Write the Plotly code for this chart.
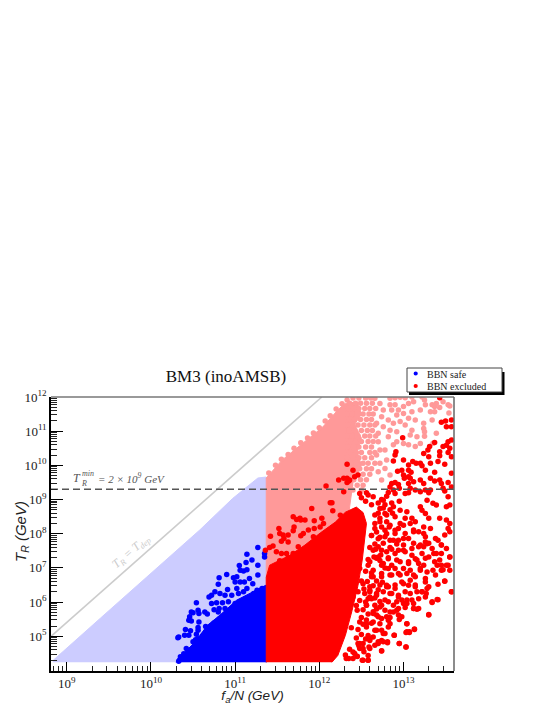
import plotly.graph_objects as go

# All positions below are log10(value)

# Outlines of the areas where points overlap completely
allowed_x = [8.84, 8.84, 9.40, 9.99, 10.58, 10.97, 11.27, 11.37, 11.37]
allowed_y = [4.24, 4.30, 5.53, 6.82, 8.11, 9.03, 9.63, 9.66, 4.24]

pink_x = [11.37, 11.37, 11.56, 11.81, 12.04, 12.22, 12.31, 12.45, 12.50, 12.42, 12.50, 12.45, 12.50, 12.40, 12.35, 11.37]
pink_y = [6.50, 9.63, 10.16, 10.65, 11.12, 11.62, 11.82, 11.85, 11.50, 11.20, 10.80, 10.40, 10.00, 9.50, 8.60, 6.50]

blue_area_x = [10.30, 10.32, 10.42, 10.52, 10.67, 10.82, 11.02, 11.33, 11.37, 11.37]
blue_area_y = [4.24, 4.36, 4.58, 4.82, 5.32, 5.62, 6.06, 6.46, 6.50, 4.24]

red_area_x = [11.37, 11.37, 11.41, 11.65, 11.83, 12.01, 12.19, 12.31, 12.44, 12.52, 12.56, 12.54, 12.51, 12.46, 12.39, 12.31, 12.22, 12.15]
red_area_y = [4.24, 6.73, 7.08, 7.37, 7.67, 8.02, 8.34, 8.63, 8.78, 8.62, 8.30, 7.81, 7.23, 6.49, 5.76, 5.03, 4.44, 4.24]

# Single BBN safe points outside the solid area
blue_x = [11.14, 11.27, 11.35, 11.35, 11.20, 11.13, 11.27, 11.05, 11.06, 11.10, 11.14, 10.90, 11.27, 10.81, 11.02, 10.98,
          11.00, 11.06, 11.11, 11.17, 11.21, 10.80, 10.76, 10.91, 10.69, 10.72, 10.82, 10.88, 11.02, 10.96, 11.04, 11.10,
          11.14, 11.22, 11.26, 11.32, 10.54, 10.72, 10.78, 10.85, 10.92, 11.00, 11.06, 11.12, 11.20, 10.48, 10.50, 10.56,
          10.57, 10.64, 10.67, 10.75, 10.81, 10.80, 10.88, 10.90, 10.98, 10.46, 10.45, 10.48, 10.57, 10.75, 10.82, 10.92,
          10.56, 10.56, 10.65, 10.68, 10.41, 10.47, 10.33, 10.32, 10.40, 10.45, 10.54, 10.53, 10.62, 10.68, 10.72, 10.42,
          10.35, 10.39, 10.56, 10.50, 10.33, 10.37]
blue_y = [7.40, 7.60, 7.42, 7.32, 7.23, 7.16, 7.08, 7.07, 6.93, 6.91, 6.95, 6.81, 6.79, 6.71, 6.74, 6.71,
          6.59, 6.59, 6.59, 6.69, 6.54, 6.52, 6.30, 6.37, 6.15, 6.20, 6.25, 6.20, 6.40, 6.20, 6.25, 6.30,
          6.40, 6.25, 6.35, 6.40, 5.98, 5.96, 5.98, 5.98, 6.01, 5.96, 6.01, 6.10, 6.15, 5.71, 5.69, 5.76,
          5.67, 5.71, 5.65, 5.78, 5.81, 5.71, 5.81, 5.71, 5.81, 5.57, 5.47, 5.45, 5.42, 5.39, 5.52, 5.67,
          5.26, 5.18, 5.29, 5.26, 5.20, 5.16, 4.98, 4.96, 5.03, 5.03, 5.06, 4.90, 5.03, 5.13, 5.18, 4.64,
          4.40, 4.49, 4.93, 4.84, 4.27, 4.33]

# Faded BBN excluded points, T_R above the limit
pink_dots_x = [12.84, 12.90, 12.96, 13.02, 13.10, 13.22, 13.26, 13.34, 13.39, 13.53, 13.32, 13.37, 13.20, 12.84, 12.90, 12.94,
               13.00, 13.06, 13.12, 12.86, 13.00, 12.92, 13.10, 13.06, 13.14, 13.24, 13.34, 13.24, 12.82, 12.88, 12.96, 13.02,
               13.10, 12.92, 12.84, 13.16, 13.08, 13.20, 13.06, 13.14, 13.00, 12.92, 12.88, 12.82, 12.70, 12.72, 12.78, 12.80,
               12.72, 12.70, 12.78, 12.84, 12.74, 12.68, 12.66, 12.72, 12.76, 12.74, 12.68, 12.76, 12.70, 13.25, 13.25, 13.39,
               13.35, 13.47, 13.55, 13.25, 13.37, 13.43, 13.54,
               11.40, 11.48, 11.55, 11.63, 11.70, 11.78, 11.86, 11.93, 12.00, 12.07, 12.13, 12.20, 12.27, 12.33,
               12.40, 12.47, 12.55, 12.61, 12.36, 12.43, 12.49, 12.56, 12.63, 12.34, 12.41, 12.47, 12.54, 12.60, 12.67,
               12.33, 12.39, 12.46, 12.52, 12.59, 12.64, 12.36, 12.42, 12.49, 12.56, 12.62, 12.33, 12.40, 12.46, 12.53, 12.60, 12.66,
               12.35, 12.42, 12.50, 12.57, 12.63, 12.33, 12.39, 12.46, 12.54, 12.60, 12.67, 12.36, 12.43, 12.50, 12.58, 12.64,
               12.33, 12.40, 12.47, 12.55, 12.62, 12.36, 12.44, 12.50, 12.60, 12.66, 12.33, 12.40, 12.47, 12.54, 12.62,
               12.37, 12.44, 12.52, 12.58, 12.66, 12.33, 12.41, 12.48, 12.56, 12.62, 12.36, 12.44, 12.52, 12.60,
               12.33, 12.41, 12.49, 12.56, 12.37, 12.45, 12.52, 12.33, 12.40, 12.50]
pink_dots_y = [11.96, 11.98, 11.99, 11.98, 12.00, 12.00, 11.77, 11.77, 11.81, 11.77, 11.57, 11.57, 11.62, 11.77, 11.77, 11.62,
               11.72, 11.81, 11.86, 11.62, 11.52, 11.47, 11.57, 11.38, 11.33, 11.23, 11.33, 11.08, 11.33, 11.23, 11.28, 11.18,
               11.03, 10.98, 11.03, 10.84, 10.89, 10.64, 10.60, 10.55, 10.64, 10.69, 10.60, 10.84, 10.69, 10.45, 10.45, 10.16,
               10.06, 9.81, 9.91, 9.72, 9.57, 10.30, 11.96, 11.81, 11.62, 11.42, 11.23, 11.13, 10.94, 10.98, 10.85, 10.94,
               10.65, 11.86, 11.74, 11.91, 11.72, 11.69, 11.53,
               9.78, 10.00, 10.18, 10.32, 10.50, 10.66, 10.80, 10.95, 11.10, 11.30, 11.45, 11.65, 11.80, 11.92,
               11.97, 11.97, 11.97, 11.97, 11.82, 11.82, 11.82, 11.82, 11.82, 11.66, 11.66, 11.66, 11.66, 11.66, 11.66,
               11.50, 11.50, 11.50, 11.50, 11.50, 11.50, 11.34, 11.34, 11.34, 11.34, 11.34, 11.18, 11.18, 11.18, 11.18, 11.18, 11.18,
               11.02, 11.02, 11.02, 11.02, 11.02, 10.86, 10.86, 10.86, 10.86, 10.86, 10.86, 10.70, 10.70, 10.70, 10.70, 10.70,
               10.54, 10.54, 10.54, 10.54, 10.54, 10.38, 10.38, 10.38, 10.38, 10.38, 10.22, 10.22, 10.22, 10.22, 10.22,
               10.06, 10.06, 10.06, 10.06, 10.06, 9.90, 9.90, 9.90, 9.90, 9.90, 9.74, 9.74, 9.74, 9.74,
               9.58, 9.58, 9.58, 9.58, 9.42, 9.42, 9.42, 9.28, 9.28, 9.28]

# Single BBN excluded points outside the solid area
red_x = [13.43, 13.50, 13.45, 13.57, 13.51, 13.57, 12.99, 13.37, 13.31, 13.53, 13.57, 13.51, 13.47, 13.55, 13.29, 13.24,
         13.30, 13.43, 13.43, 13.53, 13.57, 12.91, 12.90, 12.88, 13.00, 13.11, 13.15, 13.20, 13.22, 13.32, 13.41, 13.49,
         13.06, 12.93, 12.98, 13.06, 13.09, 13.00, 13.06, 13.01, 13.08, 13.26, 13.37, 13.57, 13.32, 13.20, 12.33, 12.40,
         12.46, 12.42, 12.29, 12.33, 12.36, 12.33, 12.35, 12.86, 12.90, 12.94, 12.84, 12.95, 12.88, 13.06, 13.08, 13.12,
         13.24, 13.37, 13.43, 13.45, 13.53, 13.57, 13.47, 13.14, 13.26, 12.48, 12.56, 12.82, 12.90, 13.02, 13.06, 13.20,
         13.32,
         12.76, 12.88, 12.78, 12.72, 12.64, 12.58, 12.96, 13.04, 13.02, 13.10, 12.90, 13.08, 13.14, 12.80, 12.84, 12.94,
         13.00, 13.12, 13.18, 13.22, 13.26, 13.30, 13.20, 13.35, 13.39, 13.51, 13.55, 13.43, 13.51, 13.55, 13.53, 13.49,
         13.32, 13.24, 13.28, 13.30, 13.49, 13.53, 13.24, 13.02, 13.06, 12.90, 12.84, 12.94, 13.00, 13.12, 13.18, 13.26,
         13.30, 13.24, 13.41, 13.45, 13.34, 13.51, 13.02, 13.10, 13.22, 13.30, 13.39, 13.55, 12.94, 12.74, 12.82, 12.92,
         13.06, 13.14, 13.18, 13.24, 13.37, 13.43, 13.45, 13.35, 13.51, 12.74, 12.82, 12.90, 13.00, 13.08, 13.20, 13.45,
         13.55, 12.70, 12.64, 12.74, 12.62, 12.86, 12.96, 13.14, 13.26, 12.58,
         13.57, 13.40, 13.34, 13.30, 13.16, 13.12, 13.12, 13.27, 13.22, 13.28, 13.41, 13.49, 13.14, 13.06, 12.98, 13.04,
         13.03, 13.07, 13.13, 12.89, 12.95, 13.03, 12.74, 12.81, 12.74, 12.76, 12.70, 12.66, 12.59, 12.58, 12.51, 12.58,
         12.45, 12.32, 12.95, 12.98, 12.92, 13.00, 12.94, 13.04, 12.84, 12.80, 12.88, 12.72, 12.66, 12.60, 12.52, 12.72,
         12.78, 12.68, 12.84, 12.90, 12.80, 12.60, 12.58, 12.56, 12.64, 12.70, 12.56, 12.48, 12.40,
         12.08, 12.23, 12.29, 12.13, 12.15, 11.91, 12.16, 11.69, 11.73, 11.83, 11.78, 11.77, 11.94, 12.03, 12.05, 12.01,
         11.94, 11.87, 11.81, 11.78, 11.70, 11.69, 11.52, 11.53, 11.57, 11.63, 11.58, 11.42, 11.55, 11.63, 11.75, 11.45,
         11.41, 11.36, 11.49, 11.55, 11.61, 11.63, 11.69, 11.79, 11.53, 11.47, 11.57, 11.93, 12.25,
         12.45, 12.52, 12.58, 12.40, 12.35, 12.31, 12.48, 12.60, 12.74, 12.70, 12.76, 12.81, 12.89, 12.95, 13.03, 13.04,
         13.07, 13.13, 13.04, 12.82, 12.78, 12.64, 12.60, 12.52, 12.46, 12.68, 12.74, 12.64, 12.68, 12.74, 12.82, 12.84,
         12.78, 12.84, 12.94, 12.94, 13.02, 13.12, 13.18, 13.30, 13.34, 13.41, 13.26, 13.18, 13.10, 13.04, 12.98, 12.92,
         12.88, 12.82, 12.74, 12.66, 12.56, 12.60, 12.68, 12.76, 12.86, 12.94, 13.02, 13.08, 13.16, 13.22, 13.30, 13.57,
         13.38, 13.49, 13.26, 13.14, 13.08, 13.00, 12.90, 12.82, 12.72, 12.60, 12.54, 12.52, 12.64, 12.74, 12.84, 12.94,
         13.04, 13.12, 13.20, 13.28, 13.40, 13.47, 13.53, 13.55, 13.45, 13.36, 13.26, 13.16, 13.06, 12.96, 12.86, 12.76,
         12.68, 12.80, 12.90, 13.00, 13.10, 13.20, 13.28, 13.45, 13.55, 13.38, 13.26, 13.12, 13.00, 12.88, 12.78, 12.64,
         12.60, 12.48, 12.42, 12.40, 12.45, 12.48, 12.56,
         12.66, 12.70, 12.72, 12.62, 12.68, 12.74, 12.78, 12.66, 12.72, 12.66, 12.80, 12.84, 12.70, 12.62, 12.55, 12.50,
         12.78, 12.86, 12.95,
         12.36, 12.42, 12.47, 12.53, 12.44, 12.50, 12.55, 12.38, 12.46, 12.52, 12.58, 12.50, 12.56, 12.62, 12.44, 12.52,
         12.58, 12.64, 12.48, 12.55, 12.62, 12.68, 12.46, 12.53, 12.60, 12.66, 12.72, 12.50, 12.57, 12.64, 12.70, 12.55,
         12.62, 12.68, 12.75, 12.80, 12.58, 12.65, 12.72, 12.78, 12.60, 12.67, 12.73, 12.82, 12.62, 12.70, 12.76, 12.84,
         12.66, 12.72, 12.80, 12.86, 12.92, 12.70, 12.76, 12.83, 12.90, 12.74, 12.80, 12.87, 12.96]
red_y = [11.98, 11.30, 11.26, 11.33, 11.13, 11.13, 10.81, 10.67, 10.55, 10.69, 10.74, 10.59, 10.55, 10.50, 10.45, 10.35,
         10.25, 10.40, 10.28, 10.38, 10.25, 10.40, 10.30, 10.13, 10.16, 10.11, 10.06, 10.06, 9.99, 10.06, 10.11, 10.03,
         10.01, 9.83, 9.86, 9.86, 9.80, 9.72, 9.67, 9.62, 9.62, 9.86, 9.80, 9.77, 9.62, 9.57, 10.03, 9.86,
         9.72, 9.67, 9.62, 9.62, 9.57, 9.50, 9.54, 9.47, 9.50, 9.44, 9.37, 9.33, 9.28, 9.47, 9.33, 9.52,
         9.47, 9.54, 9.57, 9.47, 9.50, 9.37, 9.33, 9.28, 9.28, 9.18, 9.20, 9.21, 9.18, 9.18, 9.20, 9.23,
         9.28,
         8.98, 8.79, 8.59, 8.74, 9.08, 9.13, 8.69, 8.64, 8.45, 8.45, 8.50, 8.30, 8.35, 8.35, 8.25, 8.15,
         8.25, 8.11, 8.06, 8.69, 8.59, 8.45, 8.79, 8.89, 8.84, 8.79, 8.84, 8.45, 8.40, 8.30, 8.15, 7.96,
         8.15, 8.20, 8.98, 9.20, 9.25, 9.08, 8.01, 8.01, 7.86, 8.01, 7.81, 7.81, 7.67, 7.72, 7.62, 7.76,
         7.72, 7.62, 7.81, 7.67, 7.57, 7.57, 7.47, 7.37, 7.42, 7.32, 7.42, 7.32, 7.52, 7.52, 7.27, 7.23,
         7.18, 7.27, 7.13, 7.08, 7.18, 7.23, 7.08, 6.93, 7.08, 7.08, 6.98, 6.98, 6.98, 6.93, 6.93, 6.93,
         6.93, 7.32, 6.93, 6.84, 6.74, 6.79, 6.79, 6.74, 6.69, 7.08,
         6.30, 6.08, 5.99, 5.64, 5.79, 5.81, 5.96, 6.25, 6.30, 6.40, 6.52, 6.61, 6.45, 6.49, 6.59, 5.37,
         5.11, 5.11, 5.20, 5.03, 4.79, 4.69, 4.58, 4.81, 4.88, 5.08, 4.84, 4.74, 4.69, 4.44, 4.30, 4.30,
         4.42, 4.35, 5.49, 5.57, 5.76, 5.96, 6.15, 6.06, 5.37, 5.57, 5.71, 5.37, 5.18, 4.93, 4.64, 5.86,
         6.06, 6.20, 6.25, 6.40, 6.49, 6.35, 6.10, 5.91, 5.67, 5.57, 5.37, 4.79, 4.54,
         9.40, 9.57, 9.23, 8.91, 8.91, 8.74, 8.67, 8.50, 8.42, 8.40, 8.40, 8.45, 8.38, 8.45, 8.30, 8.20,
         8.15, 8.11, 8.01, 7.94, 8.20, 8.09, 8.15, 8.01, 7.96, 7.96, 7.86, 7.93, 7.78, 7.76, 7.62, 7.64,
         7.60, 7.52, 7.47, 7.42, 7.42, 7.30, 7.42, 7.42, 7.21, 7.01, 7.13, 7.91, 8.54,
         4.41, 4.30, 4.30, 4.35, 4.35, 4.45, 4.64, 4.64, 4.57, 4.79, 4.84, 4.84, 5.03, 4.79, 4.69, 5.13,
         5.13, 5.21, 5.37, 5.27, 5.08, 4.98, 4.88, 4.79, 4.79, 5.18, 5.18, 5.42, 5.62, 5.52, 5.47, 5.55,
         5.76, 5.71, 5.62, 5.81, 5.84, 5.81, 5.81, 5.62, 6.01, 6.07, 6.15, 6.10, 6.06, 5.96, 6.06, 6.01,
         5.91, 6.01, 5.91, 5.91, 5.91, 6.15, 6.25, 6.30, 6.25, 6.20, 6.30, 6.25, 6.30, 6.30, 6.45, 6.30,
         6.79, 6.62, 6.59, 6.50, 6.64, 6.54, 6.50, 6.45, 6.50, 6.45, 6.25, 6.54, 6.74, 6.74, 6.79, 6.84,
         6.84, 6.79, 6.98, 6.88, 7.08, 6.95, 7.08, 7.32, 7.42, 7.42, 7.28, 7.23, 7.13, 7.18, 7.08, 7.13,
         7.28, 7.47, 7.42, 7.52, 7.57, 7.67, 7.71, 7.67, 8.06, 7.86, 7.91, 8.06, 7.86, 7.81, 7.91, 7.52,
         7.18, 6.98, 6.59, 6.15, 5.76, 5.42, 5.27,
         7.70, 7.62, 7.90, 7.95, 8.05, 8.20, 8.10, 8.30, 8.45, 8.55, 8.55, 8.70, 8.90, 8.85, 8.95, 9.05,
         8.85, 8.90, 8.95,
         4.62, 4.50, 4.72, 4.55, 4.95, 5.05, 4.92, 5.25, 5.20, 5.35, 5.02, 5.55, 5.48, 5.38, 5.90, 5.78,
         5.65, 5.72, 6.05, 6.00, 6.10, 5.80, 6.30, 6.38, 6.30, 6.12, 6.02, 6.62, 6.60, 6.48, 6.36, 6.90,
         6.85, 6.62, 6.58, 6.45, 7.25, 7.32, 7.22, 7.00, 7.60, 7.55, 7.38, 7.30, 7.95, 7.85, 7.72, 7.60,
         8.15, 8.35, 8.00, 7.55, 7.70, 8.60, 8.75, 8.20, 8.10, 9.00, 9.10, 8.60, 8.30]

dep_x = [8.813, 12.03]
dep_y = [5.0, 12.0]
tr_min = 2e9

x_decades = [9, 10, 11, 12, 13]
y_decades = [5, 6, 7, 8, 9, 10, 11, 12]

LILAC = '#ccccff'
PINK = '#ff9999'
SERIF = 'Liberation Serif'
SANS = 'Liberation Sans'

# the page body has an 8px margin, so the plot is placed relative to that
PLOT_L, PLOT_R, PLOT_T, PLOT_B = 51, 454, 397, 671
def fx(px):
    return (px - PLOT_L) / (PLOT_R - PLOT_L)
def fy(py):
    return (PLOT_B - py) / (PLOT_B - PLOT_T)

def vals(exps):
    return [10 ** e for e in exps]

def area(xs, ys, color):
    return go.Scatter(x=vals(xs), y=vals(ys), mode='lines', fill='toself', fillcolor=color,
                      line=dict(color=color, width=1), showlegend=False, hoverinfo='skip')

def dots(xs, ys, color, name=None):
    return go.Scatter(x=vals(xs), y=vals(ys), mode='markers', name=name, showlegend=False,
                      marker=dict(color=color, size=5.5, line=dict(width=0)))

fig = go.Figure()
fig.add_trace(area(allowed_x, allowed_y, LILAC))
fig.add_trace(area(pink_x, pink_y, PINK))
fig.add_trace(dots(pink_dots_x, pink_dots_y, PINK))
fig.add_trace(area(blue_area_x, blue_area_y, '#0000ff'))
fig.add_trace(dots(blue_x, blue_y, '#0000ff', 'BBN safe'))
fig.add_trace(area(red_area_x, red_area_y, '#ff0000'))
fig.add_trace(dots(red_x, red_y, '#ff0000', 'BBN excluded'))

# T_R = T_dep line and the T_R minimum line
fig.add_trace(go.Scatter(x=vals(dep_x), y=vals(dep_y), mode='lines', showlegend=False,
                         line=dict(color='#cccccc', width=1.6)))
fig.add_trace(go.Scatter(x=[10 ** 8.813, 10 ** 13.6], y=[tr_min, tr_min], mode='lines', showlegend=False,
                         line=dict(color='#555555', width=1.3, dash='7px,4px')))

minor_x = [m * 10 ** e for e in range(8, 14) for m in range(2, 10)]
minor_y = [m * 10 ** e for e in range(3, 12) for m in range(2, 10)]

fig.update_xaxes(
    type='log', range=[8.813, 13.6], automargin=False,
    tickmode='array', tickvals=vals(x_decades), ticktext=[f'10<sup>{e}</sup>' for e in x_decades],
    ticks='inside', ticklen=9, tickwidth=1, tickcolor='black', tickfont=dict(family=SERIF, size=13, color='#222222'),
    minor=dict(tickmode='array', tickvals=minor_x, ticks='inside', ticklen=5, tickwidth=1, tickcolor='#222222'),
    showgrid=False, zeroline=False, showline=True, linecolor='black', linewidth=1.5,
    title=dict(text='<i>f<sub>a</sub>/N (GeV)</i>', font=dict(family=SANS, size=13.5, color='#222222'), standoff=2),
)
fig.update_yaxes(
    type='log', range=[3.985, 12], automargin=False,
    tickmode='array', tickvals=vals(y_decades), ticktext=[f'10<sup>{e}</sup>' for e in y_decades],
    ticks='inside', ticklen=12, tickwidth=1, tickcolor='black', tickfont=dict(family=SERIF, size=13, color='#222222'),
    minor=dict(tickmode='array', tickvals=minor_y, ticks='inside', ticklen=6, tickwidth=1, tickcolor='#222222'),
    showgrid=False, zeroline=False, showline=True, linecolor='black', linewidth=1.5,
)

def note(text, px, py, size=11, color='#555555', angle=0, anchor='center', family=SERIF):
    fig.add_annotation(text=text, xref='paper', yref='paper', x=fx(px), y=fy(py), showarrow=False,
                       xanchor=anchor, yanchor='middle', textangle=angle,
                       font=dict(family=family, size=size, color=color))

note('<i>T</i>', 77, 478, size=12)
note('<i>min</i>', 88, 473, size=8)
note('<i>R</i>', 84, 483, size=8)
note('<i>= 2 × 10<sup>9</sup> GeV</i>', 131, 478, size=11)
note('<i>T<sub>R</sub> = T<sub>dep</sub></i>', 131, 552, size=12, color='#cccccc', angle=-41)
note('BBN safe', 425, 374, size=10, color='#222222', anchor='left')
note('BBN excluded', 425, 386, size=10, color='#222222', anchor='left')
note('<i>T<sub>R</sub> (GeV)</i>', 21, 532, size=15, color='#222222', angle=-90, family=SANS)

def legend_dot(py, color):
    return dict(type='circle', xref='paper', yref='paper', x0=fx(413.6), x1=fx(417.8), y0=fy(py + 2.1), y1=fy(py - 2.1),
                line=dict(width=0), fillcolor=color)

fig.update_layout(
    width=537, height=697, autosize=False, showlegend=False,
    margin=dict(l=43, r=91, t=389, b=34),
    paper_bgcolor='white', plot_bgcolor='white',
    title=dict(text='BM3 (inoAMSB)', font=dict(family=SERIF, size=17, color='#111111'),
               xref='paper', x=fx(226), xanchor='center', yref='container', y=1 - (376 - 8) / 697, yanchor='middle'),
    shapes=[
        # gray top and right frame
        dict(type='line', xref='paper', yref='paper', x0=0, x1=1, y0=1, y1=1, line=dict(color='#777777', width=1.5)),
        dict(type='line', xref='paper', yref='paper', x0=1, x1=1, y0=0, y1=1, line=dict(color='#666666', width=1.5)),
        # legend box with its drop shadow
        dict(type='rect', xref='paper', yref='paper', x0=fx(409), x1=fx(504.5), y0=fy(395), y1=fy(372),
             line=dict(width=0), fillcolor='black'),
        dict(type='rect', xref='paper', yref='paper', x0=fx(407), x1=fx(502), y0=fy(392), y1=fy(368),
             line=dict(color='#444444', width=1), fillcolor='white'),
        legend_dot(373.5, '#0000ff'),
        legend_dot(386, '#ff0000'),
    ],
)

fig.write_html('out.html')
